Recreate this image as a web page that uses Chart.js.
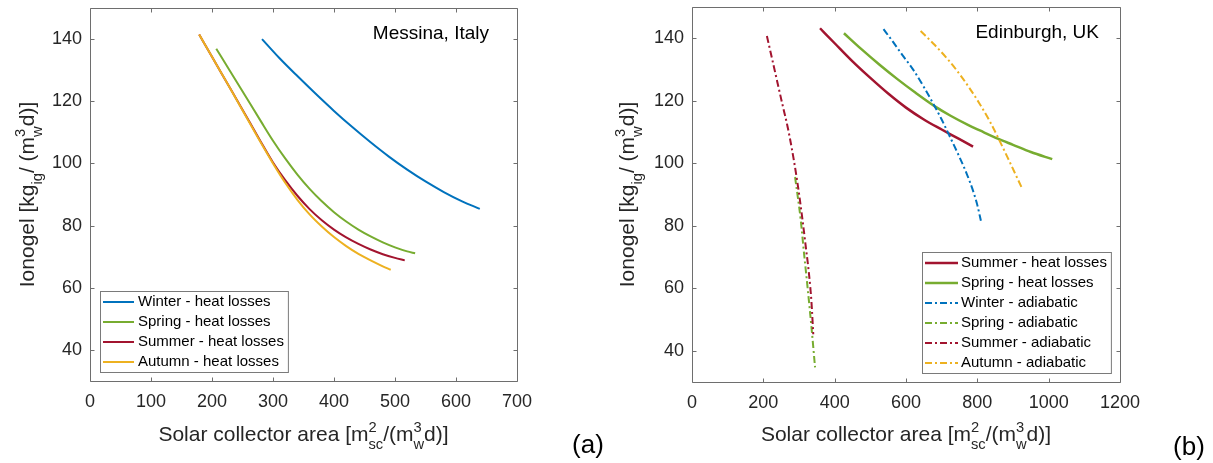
<!DOCTYPE html>
<html>
<head>
<meta charset="utf-8">
<script src="https://cdn.jsdelivr.net/npm/chart.js@4.4.1/dist/chart.umd.min.js"></script>
<style>
  html, body { margin: 0; padding: 0; background: #fff; }
  #wrap { position: relative; width: 1213px; height: 463px; }
  canvas { position: absolute; top: 0; }
  #chartA { left: 0; }
  #chartB { left: 606px; }
</style>
</head>
<body>
<div id="wrap">
  <canvas id="chartA" width="606" height="463"></canvas>
  <canvas id="chartB" width="607" height="463"></canvas>
</div>
<script>
// ---- data ----

// (a) Messina, Italy
const A_X_TICKS = [0, 100, 200, 300, 400, 500, 600, 700];
const A_Y_TICKS = [40, 60, 80, 100, 120, 140];

const A_WINTER_X = [282, 310, 340, 370, 400, 430, 460, 490, 520, 550, 580, 610, 639];
const A_WINTER_Y = [140, 134.0, 128.1, 122.4, 116.9, 111.7, 106.8, 102.2, 98.0, 94.2, 90.8, 87.8, 85.4];

const A_SPRING_X = [207, 230, 255, 280, 300, 320, 340, 360, 380, 400, 420, 440, 460, 480, 500, 520, 533];
const A_SPRING_Y = [136.9, 129.6, 121.6, 113.6, 107.3, 101.6, 96.4, 91.8, 87.8, 84.3, 81.3, 78.7, 76.5, 74.6, 73.0, 71.7, 71.1];

const A_SUMMER_X = [179, 200, 225, 250, 279, 300, 320, 340, 360, 380, 400, 420, 440, 460, 480, 500, 516];
const A_SUMMER_Y = [141.5, 134.3, 125.8, 117.3, 107.3, 100.3, 94.6, 89.6, 85.3, 81.7, 78.7, 76.2, 74.1, 72.3, 70.8, 69.6, 68.8];

const A_AUTUMN_X = [179, 200, 225, 250, 275, 300, 320, 340, 360, 380, 400, 420, 440, 460, 480, 493];
const A_AUTUMN_Y = [141.5, 134.3, 125.8, 117.1, 108.4, 100.0, 93.8, 88.3, 83.6, 79.7, 76.3, 73.4, 70.9, 68.8, 66.9, 65.8];

// (b) Edinburgh, UK
const B_X_TICKS = [0, 200, 400, 600, 800, 1000, 1200];
const B_Y_TICKS = [40, 60, 80, 100, 120, 140];

const B_SUMMER_HL_X = [359, 400, 450, 500, 550, 600, 650, 700, 750, 788];
const B_SUMMER_HL_Y = [143.2, 138.4, 132.6, 127.3, 122.3, 117.8, 114.0, 110.8, 107.7, 105.3];

const B_SPRING_HL_X = [426, 475, 525, 575, 625, 681, 725, 775, 807, 859, 900, 950, 1010];
const B_SPRING_HL_Y = [141.6, 136.5, 131.6, 127.0, 122.7, 118.2, 115.2, 112.2, 110.5, 107.8, 105.9, 103.6, 101.3];

const B_WINTER_AD_X = [537, 560, 590, 621, 650, 681, 700, 721, 745, 770, 790, 800, 810];
const B_WINTER_AD_Y = [142.9, 139.4, 134.6, 129.8, 124.4, 118.1, 114.0, 109.0, 103.2, 96.7, 90.5, 86.6, 81.6];

const B_SPRING_AD_X = [289, 305, 314, 324, 335, 345];
const B_SPRING_AD_Y = [95.6, 81.7, 71.3, 60.3, 47.5, 34.7];

const B_SUMMER_AD_X = [210, 225, 240, 254, 268, 280, 291, 301, 310, 319, 328, 335, 340];
const B_SUMMER_AD_Y = [140.7, 133.2, 125.6, 118.6, 111.7, 104.6, 97.2, 89.5, 81.7, 73.3, 64.6, 55.5, 45.3];

const B_AUTUMN_AD_X = [641, 680, 719, 760, 805, 835, 859, 890, 924];
const B_AUTUMN_AD_Y = [142.3, 137.9, 133.0, 127.0, 119.3, 113.4, 108.0, 100.6, 92.3];

// axis titles (with sub/superscripts)
const X_TITLE = [{ t: 'Solar collector area [m' }, { sup: '2', sub: 'sc' }, { t: '/(m' }, { sup: '3', sub: 'w' }, { t: 'd)]' }];
const Y_TITLE = [{ t: 'Ionogel [kg' }, { sub: 'ig' }, { t: '/ (m' }, { sup: '3', sub: 'w' }, { t: 'd)]' }];

// ---- styles ----
const FONT = "'Liberation Sans', Arial, Helvetica, sans-serif";
const BLUE = '#0072BD';
const GREEN = '#77AC30';
const RED = '#A2142F';
const ORANGE = '#EDB120';
const DASHDOT = [7, 3, 2, 3];

Chart.defaults.font.family = FONT;
Chart.defaults.color = '#262626';

function pts(xs, ys) {
    return xs.map((x, i) => ({ x: x, y: ys[i] }));
}

function series(label, xs, ys, color, dash, width) {
    return {
        label: label,
        data: pts(xs, ys),
        borderColor: color,
        backgroundColor: color,
        borderWidth: width,
        borderDash: dash || [],
        pointRadius: 0,
        cubicInterpolationMode: 'monotone',
        fill: false
    };
}

// 後から描いた線が上に来るように (MATLAB と同じ)
function setOrder(datasets) {
    datasets.forEach((d, i) => { d.order = datasets.length - i; });
    return datasets;
}

// ---- text helpers ----
function richWidth(ctx, parts, size) {
    let w = 0;
    parts.forEach(p => {
        if (p.t) {
            ctx.font = size + 'px ' + FONT;
            w += ctx.measureText(p.t).width;
        } else {
            ctx.font = (size * 0.7) + 'px ' + FONT;
            const a = p.sup ? ctx.measureText(p.sup).width : 0;
            const b = p.sub ? ctx.measureText(p.sub).width : 0;
            w += Math.max(a, b);
        }
    });
    return w;
}

function drawRich(ctx, parts, cx, baseY, size) {
    let x = cx - richWidth(ctx, parts, size) / 2;
    ctx.textAlign = 'left';
    ctx.textBaseline = 'alphabetic';
    parts.forEach(p => {
        if (p.t) {
            ctx.font = size + 'px ' + FONT;
            ctx.fillText(p.t, x, baseY);
            x += ctx.measureText(p.t).width;
        } else {
            ctx.font = (size * 0.7) + 'px ' + FONT;
            let w = 0;
            if (p.sup) {
                ctx.fillText(p.sup, x, baseY - size * 0.45);
                w = ctx.measureText(p.sup).width;
            }
            if (p.sub) {
                ctx.fillText(p.sub, x, baseY + size * 0.38);
                w = Math.max(w, ctx.measureText(p.sub).width);
            }
            x += w;
        }
    });
}

// ---- plugins ----
const framePlugin = {
    id: 'frame',
    beforeDatasetsDraw(chart) {
        const { ctx, chartArea: a, scales: { x, y } } = chart;
        const L = Math.round(a.left) + 0.5, R = Math.round(a.right) + 0.5;
        const T = Math.round(a.top) + 0.5, B = Math.round(a.bottom) + 0.5;
        ctx.save();
        ctx.strokeStyle = '#6e6e6e';
        ctx.lineWidth = 1;
        ctx.beginPath();
        ctx.rect(L, T, R - L, B - T);
        x.ticks.forEach(t => {
            const px = Math.round(x.getPixelForValue(t.value)) + 0.5;
            ctx.moveTo(px, B); ctx.lineTo(px, B - 4);
            ctx.moveTo(px, T); ctx.lineTo(px, T + 4);
        });
        y.ticks.forEach(t => {
            const py = Math.round(y.getPixelForValue(t.value)) + 0.5;
            ctx.moveTo(L, py); ctx.lineTo(L + 4, py);
            ctx.moveTo(R, py); ctx.lineTo(R - 4, py);
        });
        ctx.stroke();
        ctx.restore();
    }
};

const panelTextPlugin = {
    id: 'panelText',
    afterDraw(chart, args, opts) {
        const { ctx, chartArea: a } = chart;
        ctx.save();
        ctx.fillStyle = '#262626';
        const cx = (a.left + a.right) / 2;
        const cy = (a.top + a.bottom) / 2;
        drawRich(ctx, X_TITLE, cx, opts.xTitleBase, 21);

        ctx.save();
        ctx.translate(opts.yTitleBase, cy);
        ctx.rotate(-Math.PI / 2);
        drawRich(ctx, Y_TITLE, 0, 0, 21);
        ctx.restore();

        ctx.fillStyle = '#000';
        ctx.font = '19px ' + FONT;
        ctx.textAlign = 'right';
        ctx.textBaseline = 'middle';
        ctx.fillText(opts.place, opts.placeX, opts.placeY);

        ctx.font = '26px ' + FONT;
        ctx.textAlign = 'center';
        ctx.fillText(opts.letter, opts.letterX, opts.letterY);
        ctx.restore();
    }
};

const boxLegendPlugin = {
    id: 'boxLegend',
    afterDatasetsDraw(chart, args, opts) {
        const { ctx } = chart;
        const sets = chart.data.datasets;
        ctx.save();
        ctx.font = '15px ' + FONT;
        let maxW = 0;
        sets.forEach(d => { maxW = Math.max(maxW, ctx.measureText(d.label).width); });
        const top = opts.top;
        const bottom = top + 11 + (sets.length - 1) * opts.rowH + 10;
        const right = opts.textX + maxW + 4;
        ctx.fillStyle = '#fff';
        ctx.fillRect(opts.left, top, right - opts.left, bottom - top);
        ctx.strokeStyle = '#7a7a7a';
        ctx.lineWidth = 1;
        ctx.strokeRect(opts.left + 0.5, top + 0.5, right - opts.left, bottom - top);
        sets.forEach((d, i) => {
            const y = top + 11 + i * opts.rowH;
            ctx.strokeStyle = d.borderColor;
            ctx.lineWidth = d.borderWidth;
            ctx.setLineDash(d.borderDash || []);
            ctx.beginPath();
            ctx.moveTo(opts.sampleX0, y);
            ctx.lineTo(opts.sampleX1, y);
            ctx.stroke();
            ctx.setLineDash([]);
            ctx.fillStyle = '#000';
            ctx.textAlign = 'left';
            ctx.textBaseline = 'middle';
            ctx.fillText(d.label, opts.textX, y);
        });
        ctx.restore();
    }
};

function makeScales(xMax, xTicks, yTicks, yWidth, xHeight) {
    return {
        x: {
            type: 'linear',
            min: 0,
            max: xMax,
            grid: { display: false, drawTicks: false },
            border: { display: false },
            ticks: { color: '#262626', font: { size: 18 }, padding: 10, callback: v => String(v) },
            afterBuildTicks: s => { s.ticks = xTicks.map(v => ({ value: v })); },
            afterFit: s => {
                s.height = xHeight;
                s.paddingLeft = 0; s.paddingRight = 0;
            }
        },
        y: {
            type: 'linear',
            min: 30,
            max: 150,
            grid: { display: false, drawTicks: false },
            border: { display: false },
            ticks: { color: '#262626', font: { size: 18 }, padding: 8, callback: v => String(v) },
            afterBuildTicks: s => { s.ticks = yTicks.map(v => ({ value: v })); },
            afterFit: s => {
                s.width = yWidth;
                s.paddingTop = 0; s.paddingBottom = 0;
            }
        }
    };
}

// ---- chart (a) ----
new Chart(document.getElementById('chartA'), {
    type: 'line',
    data: {
        datasets: setOrder([
            series('Winter - heat losses', A_WINTER_X, A_WINTER_Y, BLUE, null, 2),
            series('Spring - heat losses', A_SPRING_X, A_SPRING_Y, GREEN, null, 2),
            series('Summer - heat losses', A_SUMMER_X, A_SUMMER_Y, RED, null, 2),
            series('Autumn - heat losses', A_AUTUMN_X, A_AUTUMN_Y, ORANGE, null, 2)
        ])
    },
    options: {
        responsive: false,
        animation: false,
        layout: { padding: { left: 0, top: 8, right: 89, bottom: 0 } },
        scales: makeScales(700, A_X_TICKS, A_Y_TICKS, 90, 82),
        plugins: {
            legend: { display: false },
            tooltip: { enabled: false },
            boxLegend: { left: 100, top: 291, rowH: 20, sampleX0: 103, sampleX1: 134, textX: 138 },
            panelText: {
                xTitleBase: 441, yTitleBase: 34,
                place: 'Messina, Italy', placeX: 489, placeY: 34,
                letter: '(a)', letterX: 588, letterY: 446
            }
        }
    },
    plugins: [framePlugin, boxLegendPlugin, panelTextPlugin]
});

// ---- chart (b) ----
new Chart(document.getElementById('chartB'), {
    type: 'line',
    data: {
        datasets: setOrder([
            series('Summer - heat losses', B_SUMMER_HL_X, B_SUMMER_HL_Y, RED, null, 2.5),
            series('Spring - heat losses', B_SPRING_HL_X, B_SPRING_HL_Y, GREEN, null, 2.5),
            series('Winter - adiabatic', B_WINTER_AD_X, B_WINTER_AD_Y, BLUE, DASHDOT, 2),
            series('Spring - adiabatic', B_SPRING_AD_X, B_SPRING_AD_Y, GREEN, DASHDOT, 2),
            series('Summer - adiabatic', B_SUMMER_AD_X, B_SUMMER_AD_Y, RED, DASHDOT, 2),
            series('Autumn - adiabatic', B_AUTUMN_AD_X, B_AUTUMN_AD_Y, ORANGE, DASHDOT, 2)
        ])
    },
    options: {
        responsive: false,
        animation: false,
        layout: { padding: { left: 0, top: 7, right: 93, bottom: 0 } },
        scales: makeScales(1200, B_X_TICKS, B_Y_TICKS, 86, 81),
        plugins: {
            legend: { display: false },
            tooltip: { enabled: false },
            boxLegend: { left: 316, top: 252, rowH: 20, sampleX0: 319, sampleX1: 352, textX: 355 },
            panelText: {
                xTitleBase: 441, yTitleBase: 28,
                place: 'Edinburgh, UK', placeX: 493, placeY: 33,
                letter: '(b)', letterX: 583, letterY: 448
            }
        }
    },
    plugins: [framePlugin, boxLegendPlugin, panelTextPlugin]
});
</script>
</body>
</html>
